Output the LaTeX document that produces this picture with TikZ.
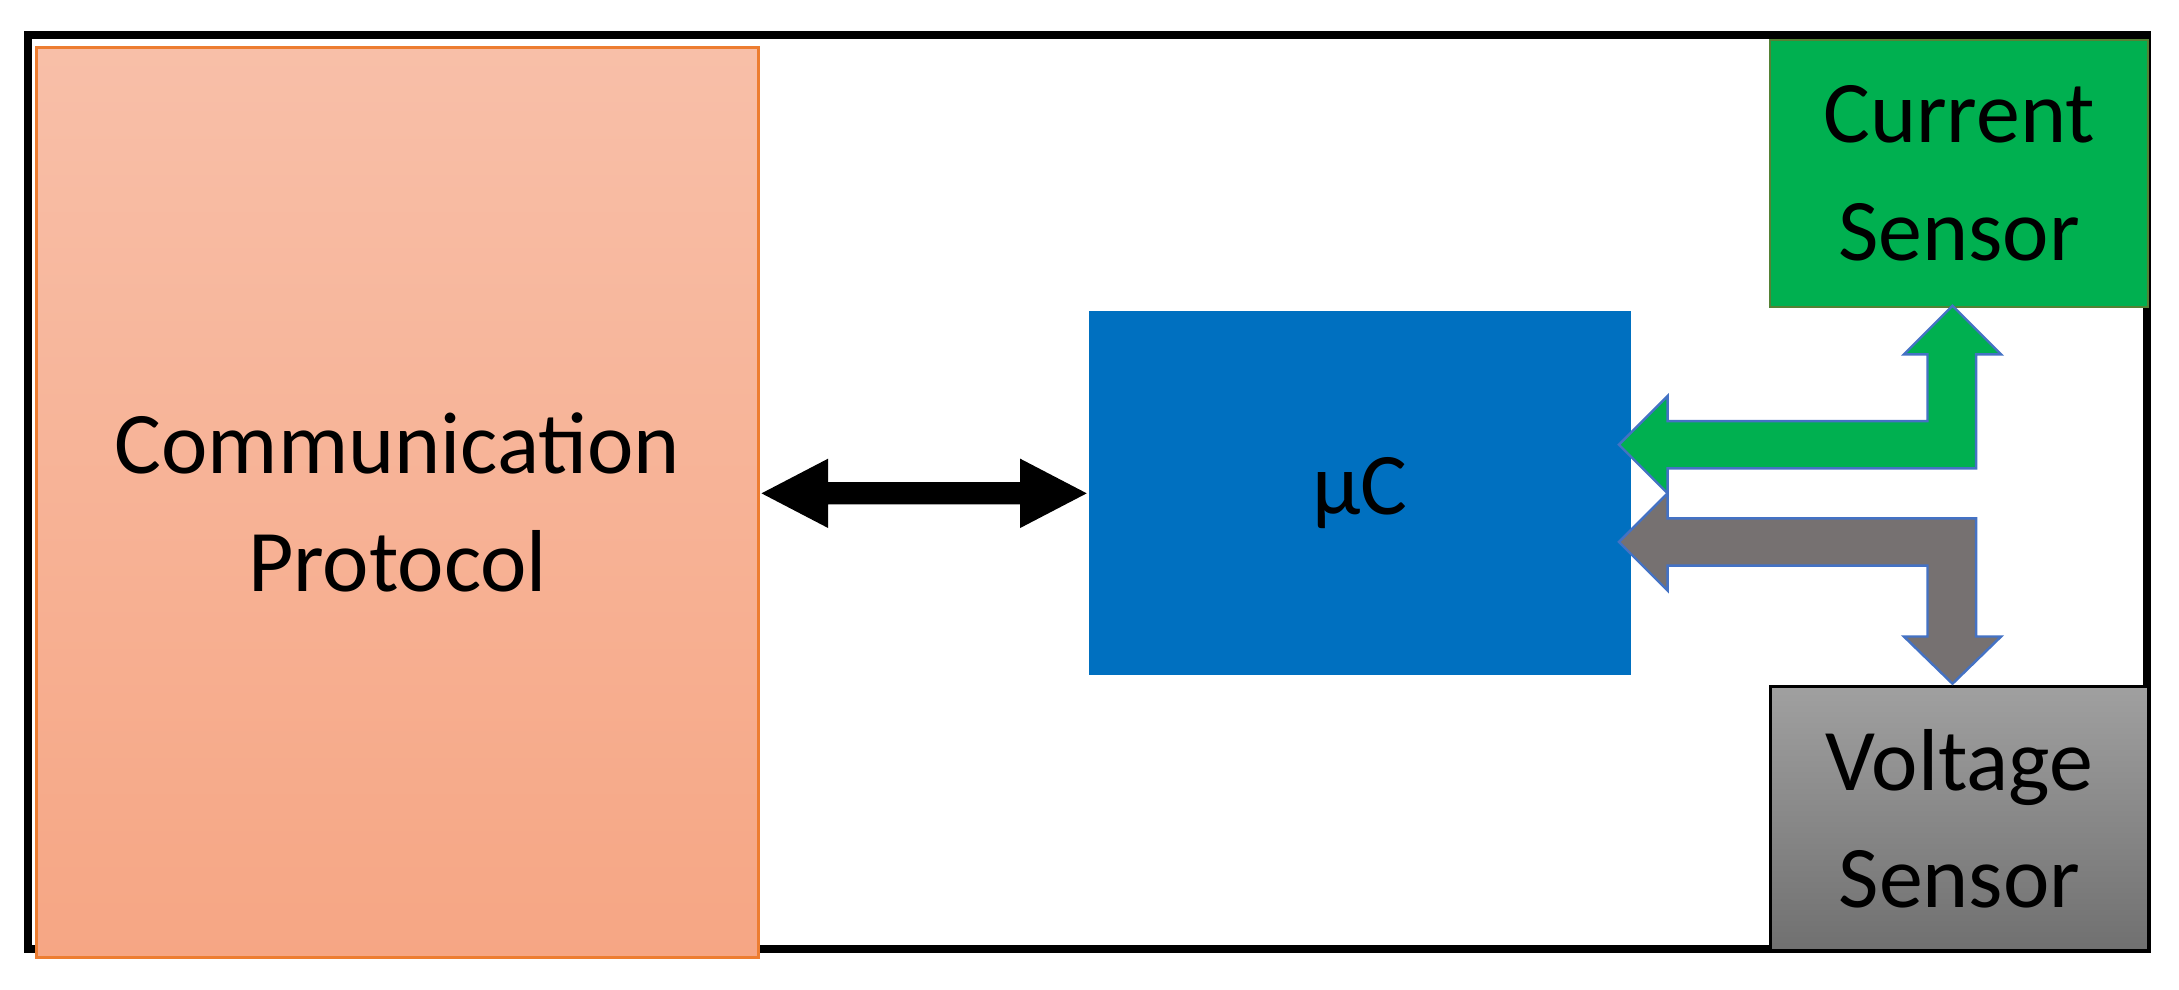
\documentclass[tikz,border=0pt]{standalone}
\usepackage{fontspec}
\setmainfont{Carlito}
\begin{document}
\begin{tikzpicture}[x=0.1mm,y=-0.1mm,
  lbl/.style={font=\fontsize{18}{24}\selectfont,align=center,text=black},
  blk/.style={draw=none,inner sep=0pt}]
\useasboundingbox (0,0) rectangle (1568,712);
\draw[line width=0.6mm,black] (20,25) rectangle (1545,683);
\node[blk,minimum width=52mm,minimum height=65.5mm,anchor=north west,top color={rgb,255:red,248;green,191;blue,168},bottom color={rgb,255:red,246;green,166;blue,132},draw={rgb,255:red,237;green,125;blue,49},line width=0.6pt,lbl] (comm) at (25,33) {Communication\\Protocol};
\node[blk,minimum width=39mm,minimum height=26.2mm,anchor=north west,fill={rgb,255:red,0;green,112;blue,192},lbl] (uc) at (783,223) {µC};
\node[blk,minimum width=27.2mm,minimum height=19.2mm,anchor=north west,fill={rgb,255:red,0;green,176;blue,80},draw={rgb,255:red,84;green,130;blue,53},lbl] (cur) at (1273,28) {Current\\Sensor};
\node[blk,minimum width=27.2mm,minimum height=19mm,anchor=north west,top color={rgb,255:red,160;green,160;blue,160},bottom color={rgb,255:red,112;green,112;blue,112},draw=black,line width=0.6pt,lbl] (volt) at (1273,493) {Voltage\\Sensor};
% black double arrow
\fill[black] (548,355) -- (596,330) -- (596,347) -- (734,347) -- (734,330) -- (782,355) -- (734,380) -- (734,363) -- (596,363) -- (596,380) -- cycle;
% green arrow
\filldraw[fill={rgb,255:red,0;green,176;blue,80},draw={rgb,255:red,68;green,114;blue,196},line width=0.5pt]
  (1165,320) -- (1200,285) -- (1200,303) -- (1387,303) -- (1387,255) -- (1370,255) -- (1405,220) -- (1440,255) -- (1422,255) -- (1422,337) -- (1200,337) -- (1200,355) -- cycle;
% gray arrow
\filldraw[fill={rgb,255:red,118;green,113;blue,113},draw={rgb,255:red,68;green,114;blue,196},line width=0.5pt]
  (1165,390) -- (1200,355) -- (1200,373) -- (1422,373) -- (1422,458) -- (1440,458) -- (1405,492) -- (1370,458) -- (1387,458) -- (1387,407) -- (1200,407) -- (1200,425) -- cycle;
\end{tikzpicture}
\end{document}
